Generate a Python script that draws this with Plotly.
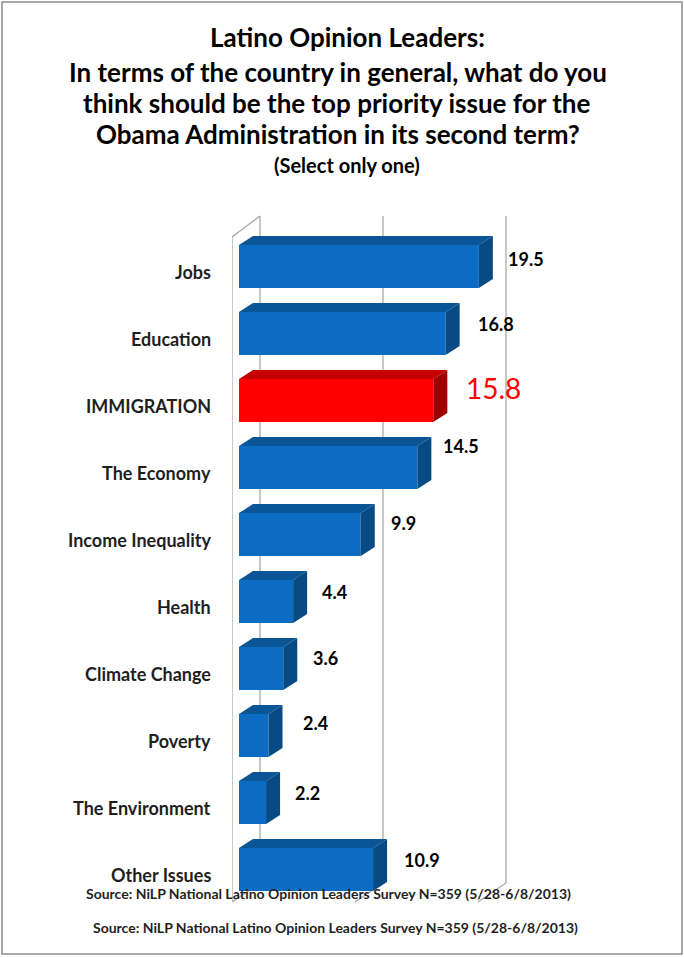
import plotly.graph_objects as go

# ---- data -------------------------------------------------------------
categories = ["Jobs", "Education", "IMMIGRATION", "The Economy", "Income Inequality",
              "Health", "Climate Change", "Poverty", "The Environment", "Other Issues"]
values = [19.5, 16.8, 15.8, 14.5, 9.9, 4.4, 3.6, 2.4, 2.2, 10.9]
highlight = "IMMIGRATION"
grid_values = [0, 10, 20]

title_lines = ["Latino Opinion Leaders:",
               "In terms of the country in general, what do you",
               "think should be the top priority issue for the",
               "Obama Administration in its second term?"]
subtitle = "(Select only one)"
source_text = "Source: NiLP National Latino Opinion Leaders Survey N=359 (5/28-6/8/2013)"

# ---- layout geometry (pixels) ----------------------------------------
W, H = 684, 957
ML, MR, MT, MB = 232, 84, 210, 50
PW, PH = W - ML - MR, H - MT - MB
PX_X = 12.3          # pixels per percentage point
PX_Y = 67.0          # pixels per category row
ZERO_PX = 239        # x pixel of 0 on the bars' front face
ROW0_PX = 266.5      # y pixel of the first row centre
BAR_W = 0.64         # bar thickness in rows
BAR_DX, BAR_DY = 14, 9        # bar depth (px)
WALL_FRONT_DX = -7            # front of the plot box relative to bars (px)
WALL_BACK_DX = 21             # back wall relative to bars (px)
WALL_TOP_FRONT, WALL_TOP_BACK = 237, 216
FLOOR_BACK, FLOOR_FRONT = 883, 902

# value-label placement beyond each bar end (x px right, y px up)
LABEL_DX = [27, 30, 31, 24, 28, 27, 28, 32, 27, 29]
LABEL_DY = [8, 10, 13, 22, 12, 10, 11, 13, 10, 10]

# title line centres and baselines (px)
TITLE_X = [347, 338, 337, 338]
TITLE_Y = [37, 72, 103, 134]

x0 = (ML - ZERO_PX) / PX_X
x1 = x0 + PW / PX_X
y_top = (MT - ROW0_PX) / PX_Y
y_bot = y_top + PH / PX_Y


def ux(dpx):
    return dpx / PX_X


def rowy(py):
    return (py - ROW0_PX) / PX_Y


def paper_x(px):
    return (px - ML) / PW


def paper_y(py):
    return 1 - (py - MT) / PH


FONT = "Lato, 'Open Sans', sans-serif"

BLUE = ("#0B6CC2", "#0A5596", "#084B84")   # front, top, side
RED = ("#FF0000", "#C40000", "#A00000")

rows = list(range(len(categories)))
palette = [RED if c == highlight else BLUE for c in categories]

fig = go.Figure()
fig.add_trace(go.Bar(
    x=values, y=rows, orientation="h", width=BAR_W, base=0,
    marker=dict(color=[p[0] for p in palette], line=dict(width=0)),
    hoverinfo="skip", showlegend=False,
))

shapes = []

# back wall gridlines with their floor edges, plus the left wall outline
grid_col = "#A3A3A3"
for g in grid_values:
    xb = g + ux(WALL_BACK_DX)
    xf = g + ux(WALL_FRONT_DX)
    shapes.append(dict(
        type="path", xref="x", yref="y", layer="below",
        path=f"M {xb},{rowy(WALL_TOP_BACK)} L {xb},{rowy(FLOOR_BACK)} L {xf},{rowy(FLOOR_FRONT)}",
        line=dict(color=grid_col, width=1.2)))
xf0 = ux(WALL_FRONT_DX)
xb0 = ux(WALL_BACK_DX)
shapes.append(dict(
    type="path", xref="x", yref="y", layer="below",
    path=f"M {xf0},{rowy(FLOOR_FRONT)} L {xf0},{rowy(WALL_TOP_FRONT)} L {xb0},{rowy(WALL_TOP_BACK)}",
    line=dict(color=grid_col, width=1.2)))

# top and side faces of each bar
dx = ux(BAR_DX)
dy = BAR_DY / PX_Y
for i, v in enumerate(values):
    tf = i - BAR_W / 2
    bf = i + BAR_W / 2
    front, top, side = palette[i]
    shapes.append(dict(
        type="path", xref="x", yref="y", layer="above",
        path=f"M 0,{tf} L {v},{tf} L {v + dx},{tf - dy} L {dx},{tf - dy} Z",
        fillcolor=top, line=dict(width=0)))
    shapes.append(dict(
        type="path", xref="x", yref="y", layer="above",
        path=f"M {v},{tf} L {v + dx},{tf - dy} L {v + dx},{bf - dy} L {v},{bf} Z",
        fillcolor=side, line=dict(width=0)))

# outer frame
shapes.append(dict(type="rect", xref="paper", yref="paper",
                   x0=paper_x(2), x1=paper_x(682), y0=paper_y(954), y1=paper_y(2),
                   line=dict(color="#8C8C8C", width=1.5), fillcolor="rgba(0,0,0,0)"))

annotations = []

# category labels
for i, c in enumerate(categories):
    annotations.append(dict(
        x=paper_x(213), xref="paper", y=i, yref="y", yshift=-5,
        text=c, showarrow=False, xanchor="right", yanchor="middle",
        font=dict(family=FONT, size=18, color="#1F1F1F", weight="bold")))

# value labels
for i, (c, v) in enumerate(zip(categories, values)):
    hl = c == highlight
    annotations.append(dict(
        x=v, xref="x", y=i, yref="y", xshift=LABEL_DX[i], yshift=LABEL_DY[i],
        text=f"{v:.1f}", showarrow=False, xanchor="left", yanchor="middle",
        font=dict(family=FONT, size=28 if hl else 18,
                  color="#FF0000" if hl else "#000000",
                  weight="normal" if hl else "bold")))

# title block
for t, px, py in zip(title_lines, TITLE_X, TITLE_Y):
    annotations.append(dict(
        x=paper_x(px), xref="paper", y=paper_y(py), yref="paper",
        text=t, showarrow=False, xanchor="center", yanchor="middle",
        font=dict(family=FONT, size=26, color="#000000", weight="bold")))
annotations.append(dict(
    x=paper_x(347), xref="paper", y=paper_y(165), yref="paper",
    text=subtitle, showarrow=False, xanchor="center", yanchor="middle",
    font=dict(family=FONT, size=20, color="#000000", weight="bold")))

# source notes
for px, py in [(328, 893), (335, 928)]:
    annotations.append(dict(
        x=paper_x(px), xref="paper", y=paper_y(py), yref="paper",
        text=source_text, showarrow=False, xanchor="center", yanchor="middle",
        font=dict(family=FONT, size=14, color="#1F1F1F", weight="bold")))

fig.update_layout(
    width=W, height=H, autosize=False,
    margin=dict(l=ML, r=MR, t=MT, b=MB, pad=0),
    paper_bgcolor="white", plot_bgcolor="white",
    xaxis=dict(range=[x0, x1], visible=False, fixedrange=True),
    yaxis=dict(range=[y_bot, y_top], visible=False, fixedrange=True),
    shapes=shapes, annotations=annotations,
    showlegend=False,
)

fig.write_html("out.html", config={"displayModeBar": False})
